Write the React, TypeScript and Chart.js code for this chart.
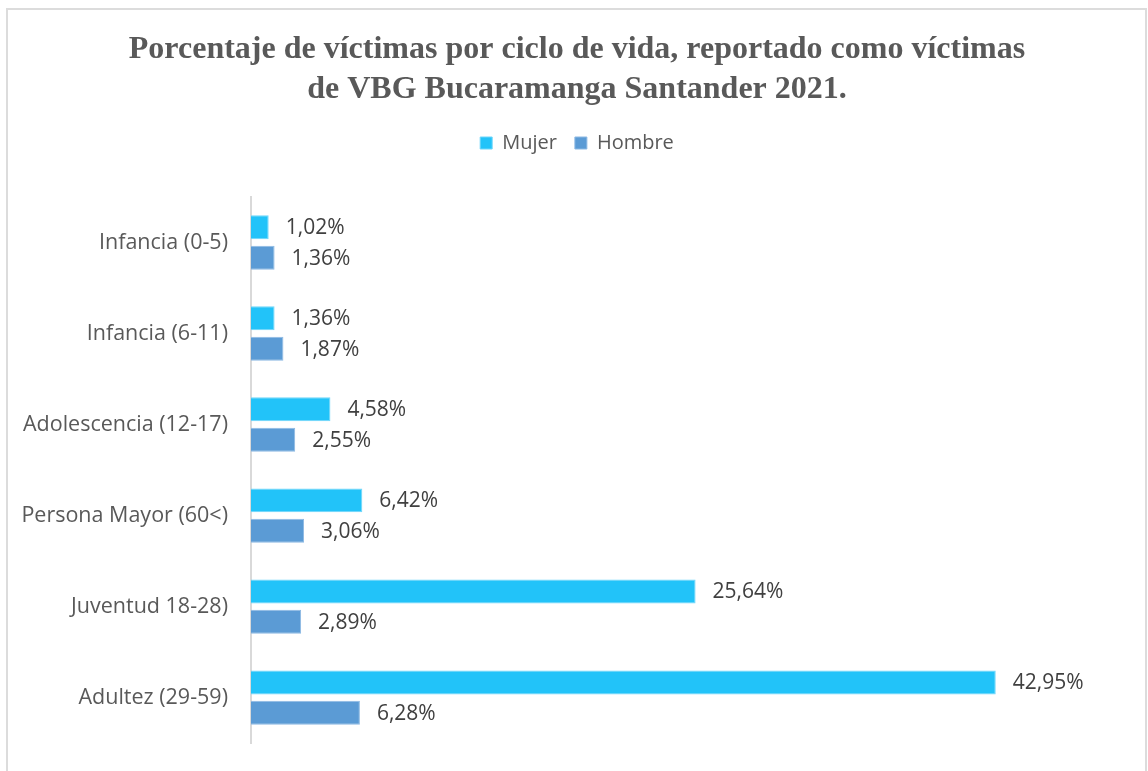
import React, { useEffect, useRef } from "react";
import { Chart, registerables } from "chart.js";

Chart.register(...registerables);

const categories = [
  "Infancia (0-5)",
  "Infancia (6-11)",
  "Adolescencia (12-17)",
  "Persona Mayor (60<)",
  "Juventud 18-28)",
  "Adultez (29-59)",
];
const mujerValues = [1.02, 1.36, 4.58, 6.42, 25.64, 42.95];
const hombreValues = [1.36, 1.87, 2.55, 3.06, 2.89, 6.28];
const seriesNames = ["Mujer", "Hombre"];
const titleLines = [
  "Porcentaje de víctimas por ciclo de vida, reportado como víctimas",
  "de VBG Bucaramanga Santander 2021.",
];

const fmt = (v: number) => v.toFixed(2).replace(".", ",") + "%";

const dataLabelPlugin = {
  id: "dataLabels",
  afterDatasetsDraw(chart: any) {
    const ctx = chart.ctx;
    ctx.save();
    ctx.font = "21px 'Open Sans'";
    ctx.fillStyle = "#404040";
    ctx.textAlign = "left";
    ctx.textBaseline = "middle";
    chart.data.datasets.forEach((ds: any, di: number) => {
      const meta = chart.getDatasetMeta(di);
      meta.data.forEach((bar: any, i: number) => {
        ctx.fillText(fmt(ds.data[i]), bar.x + 17, bar.y + 1);
      });
    });
    ctx.restore();
  },
};

// let the category labels extend into the left padding without being clipped
const widenLabelArea = {
  id: "widenLabelArea",
  afterLayout(chart: any) {
    const y = chart.scales.y;
    if (y) y.left = 0;
  },
};

export default function App() {
  const ref = useRef<HTMLCanvasElement | null>(null);
  useEffect(() => {
    if (!ref.current) return;
    const chart = new Chart(ref.current, {
      type: "bar",
      data: {
        labels: categories,
        datasets: [
          {
            label: seriesNames[0],
            data: mujerValues,
            backgroundColor: "#22C3F9",
            borderColor: "#6FD6FA",
            borderWidth: 1,
            categoryPercentage: 0.667,
            barPercentage: 0.79,
          },
          {
            label: seriesNames[1],
            data: hombreValues,
            backgroundColor: "#5B9BD5",
            borderColor: "#8DB9E3",
            borderWidth: 1,
            categoryPercentage: 0.667,
            barPercentage: 0.79,
          },
        ],
      },
      options: {
        indexAxis: "y",
        responsive: false,
        animation: false,
        layout: { padding: { top: 0, left: 36, right: 30, bottom: 18 } },
        plugins: {
          title: {
            display: true,
            text: titleLines,
            color: "#595959",
            font: { family: "'Liberation Serif'", size: 32, weight: "bold", lineHeight: 40 / 32 },
            padding: { top: 30, bottom: 5 },
          },
          legend: {
            display: true,
            labels: {
              color: "#595959",
              font: { family: "'Open Sans'", size: 20 },
              boxWidth: 12,
              boxHeight: 12,
              padding: 18,
            },
          },
          tooltip: { enabled: false },
        },
        scales: {
          x: {
            display: true,
            position: "top",
            min: 0,
            max: 50,
            grid: { display: false },
            border: { display: false },
            ticks: { display: false },
            afterFit(scale: any) {
              scale.height = 34;
            },
          },
          y: {
            grid: { display: false },
            border: { display: true, color: "#d9d9d9", width: 2 },
            ticks: {
              color: "#595959",
              font: { family: "'Open Sans'", size: 21.5 },
              padding: 15,
            },
            afterFit(scale: any) {
              scale.width = 215;
            },
          },
        },
      },
      plugins: [dataLabelPlugin, widenLabelArea],
    });
    return () => chart.destroy();
  }, []);
  return (
    <>
      <div
        style={{
          position: "absolute",
          left: 6,
          top: 8,
          width: 1141,
          height: 763,
          boxSizing: "border-box",
          borderTop: "2px solid #dcdcdc",
          borderLeft: "2px solid #dcdcdc",
          borderRight: "2px solid #dcdcdc",
        }}
      />
      <canvas
        ref={ref}
        width={1148}
        height={771}
        style={{ position: "absolute", left: 0, top: 0, width: 1148, height: 771 }}
      />
    </>
  );
}
